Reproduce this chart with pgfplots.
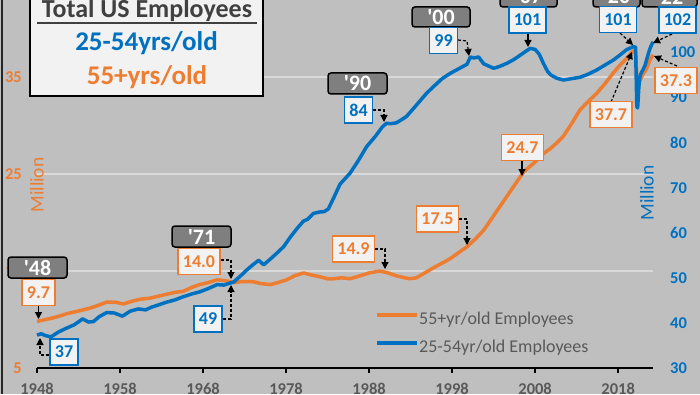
\documentclass[border=0pt]{standalone}
\usepackage{pgfplots}
\pgfplotsset{compat=1.18}
\usepackage{fontspec}
\setmainfont{Carlito}
\usetikzlibrary{arrows.meta}
\definecolor{bg}{HTML}{BFBFBF}
\definecolor{gridc}{HTML}{D9D9D9}
\definecolor{orn}{HTML}{ED7D31}
\definecolor{blu}{HTML}{0070C0}
\definecolor{tgray}{HTML}{595959}
\definecolor{dgray}{HTML}{404040}
\definecolor{darkbox}{HTML}{7F7F7F}
\definecolor{boxf}{HTML}{F2F2F2}
\begin{document}
\begin{tikzpicture}
\useasboundingbox (0,0) rectangle (700pt,394pt);
\clip (0,0) rectangle (700pt,394pt);
\fill[bg] (0,0) rectangle (700pt,394pt);
\begin{axis}[
 at={(37pt,26pt)}, anchor=south west, scale only axis, width=616pt, height=368pt,
 xmin=1948, xmax=2022.2, ymin=5, ymax=42.94,
 axis x line*=bottom, axis y line*=left,
 x axis line style={black, line width=1.6pt, -},
 y axis line style={draw=none},
 xtick={1948,1958,...,2018},
 ytick={5,15,25,35},
 tick align=outside, major tick length=5pt,
 xtick style={black, line width=1.6pt},
 ytick style={draw=none},
 ymajorgrids, grid style={color=gridc, line width=1.3pt},
 xticklabel style={text=tgray, font=\bfseries\fontsize{16.5}{16.5}\selectfont, inner sep=0pt, yshift=-10pt, /pgf/number format/1000 sep={}},
 yticklabel style={text=orn, font=\bfseries\fontsize{16.5}{16.5}\selectfont, inner sep=0pt, xshift=-10pt},
 /pgf/number format/assume math mode=true,
 clip=false,
]
\addplot[orn, line width=3.5pt, line join=round] coordinates {
(1948.0,9.8) (1948.5,9.9) (1949.6,10.1) (1950.5,10.3) (1951.6,10.6) (1952.6,10.8)
(1953.6,11.0) (1954.5,11.2) (1955.5,11.5) (1956.4,11.8) (1957.3,11.8) (1958.4,11.6)
(1959.5,11.9) (1960.5,12.1) (1961.6,12.2) (1962.6,12.4) (1963.6,12.6) (1964.6,12.8)
(1965.6,12.9) (1966.6,13.3) (1967.6,13.6) (1968.6,13.8) (1969.7,14.1) (1970.6,14.0)
(1971.3,13.9) (1971.7,13.8) (1972.5,13.9) (1973.3,13.9) (1974.0,13.9) (1975.0,13.7)
(1976.1,13.6) (1977.0,13.8) (1978.1,14.1) (1979.0,14.5) (1980.1,14.8) (1981.0,14.6)
(1982.1,14.4) (1983.0,14.2) (1983.7,14.2) (1984.7,14.3) (1985.7,14.2) (1986.9,14.5)
(1988.0,14.8) (1989.3,15.0) (1990.3,14.8) (1991.3,14.5) (1992.3,14.3) (1992.9,14.2)
(1993.7,14.3) (1994.5,14.7) (1995.3,15.1) (1996.1,15.5) (1997.0,15.9) (1997.8,16.3)
(1998.8,16.9) (1999.8,17.5) (2000.8,18.3) (2001.8,19.2) (2002.6,20.2) (2003.4,21.2)
(2004.2,22.2) (2005.0,23.2) (2005.8,24.2) (2006.6,25.2) (2007.4,25.8) (2008.2,26.4)
(2009.0,27.1) (2009.8,27.6) (2010.6,28.2) (2011.4,28.9) (2012.4,30.2) (2013.4,31.6)
(2014.4,32.5) (2015.4,33.3) (2016.4,34.3) (2017.4,35.4) (2018.2,36.2) (2019.0,36.9)
(2019.8,37.7) (2020.1,37.6) (2020.3,34.0) (2020.6,34.6) (2021.0,35.3) (2021.4,35.8)
(2021.86,36.8) (2022.2,37.3)
};
\end{axis}
\begin{axis}[
 at={(37pt,26pt)}, anchor=south west, scale only axis, width=616pt, height=368pt,
 xmin=1948, xmax=2022.2, ymin=30, ymax=111.65,
 axis x line=none, axis y line*=right,
 y axis line style={draw=none}, ytick style={draw=none},
 ytick={30,40,...,100},
 tick align=outside, major tick length=5pt,
 yticklabel style={text=blu, font=\bfseries\fontsize{16.5}{16.5}\selectfont, inner sep=0pt, xshift=12pt, anchor=west},
 /pgf/number format/assume math mode=true,
 clip=false,
 legend style={draw=none, fill=none, inner sep=0pt, at={(0.5487,0.0923)}, anchor=west,
   row sep=11pt, nodes={text=tgray, font=\fontsize{18}{18}\selectfont, inner xsep=0pt, inner ysep=0pt, text height=13pt, text depth=4pt}},
 legend cell align=left,
 legend image code/.code={\draw[#1, line width=4pt] (0pt,5.5pt) -- (40pt,5.5pt);},
]
\addlegendimage{orn, line width=4pt}
\addlegendentry{55+yr/old Employees}
\addplot[blu, line width=3.5pt, line join=round] coordinates {
(1948.0,37.3) (1948.5,37.6) (1949.0,37.2) (1949.7,36.9) (1950.5,37.9) (1951.5,38.8)
(1952.5,39.6) (1953.5,40.9) (1954.2,40.2) (1954.8,40.3) (1955.5,41.4) (1956.4,42.3)
(1957.3,42.2) (1958.3,41.5) (1959.2,42.6) (1960.2,43.1) (1961.1,42.9) (1961.8,43.5)
(1962.8,44.1) (1963.6,44.6) (1964.6,45.1) (1965.6,45.8) (1966.6,46.4) (1967.6,46.9)
(1968.6,47.6) (1969.7,48.5) (1970.5,48.4) (1971.0,48.7) (1971.7,49.1) (1972.5,50.4)
(1973.3,51.8) (1974.0,52.9) (1974.7,53.9) (1975.3,52.9) (1976.0,54.0) (1976.9,55.5)
(1977.7,56.9) (1978.5,59.0) (1979.3,60.9) (1980.1,62.6) (1980.6,63.0) (1981.3,64.3)
(1982.0,64.6) (1982.6,64.7) (1983.1,65.3) (1983.8,68.0) (1984.5,70.8) (1985.7,73.2)
(1986.7,76.0) (1987.7,79.1) (1988.8,81.5) (1989.6,83.5) (1990.1,84.3) (1990.6,84.2)
(1991.3,84.4) (1992.0,85.2) (1992.5,85.8) (1993.5,87.9) (1994.9,90.9) (1995.8,92.5)
(1996.8,94.2) (1997.8,95.4) (1998.8,96.4) (1999.8,97.4) (2000.2,99.0) (2000.6,98.8)
(2001.2,99.0) (2001.8,97.5) (2002.4,97.0) (2003.0,96.5) (2003.7,96.9) (2004.6,97.6)
(2005.4,98.4) (2006.2,99.4) (2006.9,100.3) (2007.4,100.9) (2008.0,100.7) (2008.5,99.6)
(2009.0,97.6) (2009.5,95.8) (2009.9,95.0) (2010.6,94.3) (2011.4,93.9) (2012.4,94.2)
(2013.4,94.5) (2014.4,95.2) (2015.4,96.1) (2016.4,97.2) (2017.4,98.3) (2018.2,99.4)
(2019.0,100.6) (2019.8,101.3) (2020.1,101.2) (2020.25,88.0) (2020.35,87.7) (2020.5,92.5)
(2020.65,95.0) (2021.0,96.2) (2021.25,97.2) (2021.6,99.5) (2021.86,101.0) (2022.2,102.4)
};
\addlegendentry{25-54yr/old Employees}
\end{axis}
\begin{scope}[x=1pt,y=-1pt,shift={(0pt,394pt)},
  yr/.style={fill=darkbox, draw=black, line width=1.5pt, rounded corners=3pt, text=white,
    font=\bfseries\fontsize{22}{22}\selectfont, minimum width=59pt, minimum height=21pt, inner sep=0pt},
  vb/.style={fill=boxf, draw=blu, line width=1.5pt, text=blu, font=\bfseries\fontsize{18}{18}\selectfont,
    minimum height=26pt, inner xsep=5pt, inner ysep=0pt},
  vo/.style={vb, draw=orn, text=orn},
  ar/.style={black, line width=1.2pt, -{Triangle[length=7pt,width=7pt]}},
  da/.style={ar, dash pattern=on 3pt off 2pt}]
\draw[black!85, line width=2pt] (1.5,0) -- (1.5,394);
\node[rotate=90, text=orn, font=\fontsize{19.5}{19.5}\selectfont] at (37,185) {Million};
\node[rotate=90, text=blu, font=\fontsize{19.5}{19.5}\selectfont] at (647,193) {Million};
% title box
\draw[fill=boxf, line width=1.5pt] (30,-5) rectangle (263,96);
\node[font=\bfseries\fontsize{26}{26}\selectfont, text=dgray, anchor=base, inner sep=0pt] at (147,18) {Total US Employees};
\draw[dgray, line width=2pt] (37,23) -- (257,23);
\node[font=\bfseries\fontsize{27}{27}\selectfont, text=blu, anchor=base, inner sep=0pt] at (146.5,51) {25-54yrs/old};
\node[font=\bfseries\fontsize{27}{27}\selectfont, text=orn, anchor=base, inner sep=0pt] at (147,85) {55+yrs/old};
% arrows
\draw[ar] (38.5,306) -- (38.5,319);
\draw[da] (49,355) -- (40,355) -- (40,338);
\draw[da] (221,260) -- (231,260) -- (231,279);
\draw[da] (223,319) -- (231,319) -- (231,285);
\draw[da] (373,110) -- (384,110) -- (384,122);
\draw[da] (375,249) -- (385,249) -- (385,269);
\draw[da] (459,219) -- (467,219) -- (467,245);
\draw[da] (458,40) -- (467,41) -- (469,56);
\draw[ar] (528,33) -- (528,47);
\draw[da] (620,33) -- (633,45);
\draw[da] (672,34) -- (653,43);
\draw[ar] (522,160) -- (522,176);
\draw[da] (611,102) -- (632,52);
\draw[da] (677,66) -- (654,56);
% year boxes
\node[yr] at (37.5,267.5) {\textquotesingle48};
\node[yr] at (201.5,236.5) {\textquotesingle71};
\node[yr] at (357.5,83.5) {\textquotesingle90};
\node[yr, minimum width=58pt, minimum height=20pt] at (441,17) {\textquotesingle00};
\node[yr, minimum width=57pt] at (528.5,-3.5) {\textquotesingle07};
\node[yr, minimum width=47pt] at (616.5,-3.5) {\textquotesingle20};
\node[yr, minimum width=55pt] at (669.5,-3.5) {\textquotesingle22};
% value boxes
\node[vo] at (38.5,292.5) {9.7};
\node[vb] at (64,352) {37};
\node[vo] at (199,261.5) {14.0};
\node[vb] at (208,319) {49};
\node[vb] at (358.5,110) {84};
\node[vo] at (353.5,249) {14.9};
\node[vo] at (437.5,219) {17.5};
\node[vb] at (443.5,40.5) {99};
\node[vb] at (527.5,20) {101};
\node[vb] at (618,19.5) {101};
\node[vb] at (677.5,20) {102};
\node[vo] at (522.5,147.5) {24.7};
\node[vo] at (611,114.5) {37.7};
\node[vo] at (676,80.5) {37.3};
\end{scope}
\end{tikzpicture}
\end{document}
